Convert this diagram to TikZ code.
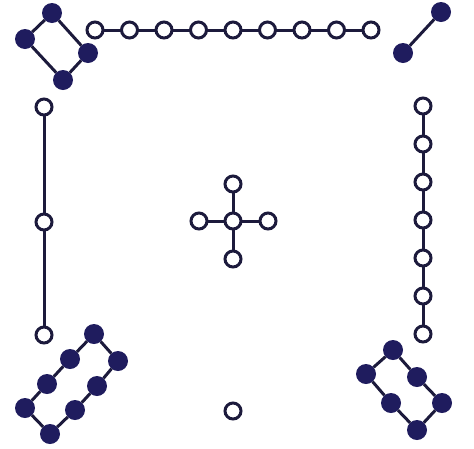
\documentclass[tikz,border=0pt]{standalone}
\usepackage{tikz}
\usetikzlibrary{positioning}
\definecolor{navy}{HTML}{1F1C5E}
\definecolor{rim}{HTML}{1C1A3C}
\tikzset{%
   dot/.style={circle, inner sep=0mm, outer sep=0mm, minimum size=20pt, draw=none, fill=navy},
   ring/.style={circle, inner sep=0mm, outer sep=0mm, minimum size=16pt, line width=3pt, draw=rim, fill=white},
   every edge/.style={draw=rim, line width=3pt},
}

\begin{document}
\begin{tikzpicture}[x=1pt, y=-1pt]
   \useasboundingbox (0,0) rectangle (474,448);
   % four (top left)
   \node[dot] (a0) at (52,13) {};
   \node[dot] (a1) at (25,39) {};
   \node[dot] (a2) at (63,80) {};
   \node[dot] (a3) at (88,53) {};
   \path (a0) edge (a1) (a1) edge (a2) (a2) edge (a3) (a3) edge (a0);
   % nine (top)
   \node[ring] (b0) at (95,30) {};
   \node[ring] (b1) at (129.5,30) {};
   \node[ring] (b2) at (164,30) {};
   \node[ring] (b3) at (198.5,30) {};
   \node[ring] (b4) at (233,30) {};
   \node[ring] (b5) at (267.5,30) {};
   \node[ring] (b6) at (302,30) {};
   \node[ring] (b7) at (336.5,30) {};
   \node[ring] (b8) at (371,30) {};
   \path (b0) edge (b1) (b1) edge (b2) (b2) edge (b3) (b3) edge (b4)
         (b4) edge (b5) (b5) edge (b6) (b6) edge (b7) (b7) edge (b8);
   % two (top right)
   \node[dot] (c0) at (441,12) {};
   \node[dot] (c1) at (403,53) {};
   \path (c0) edge (c1);
   % three (left)
   \node[ring] (d0) at (44,107) {};
   \node[ring] (d1) at (44,222) {};
   \node[ring] (d2) at (44,335) {};
   \path (d0) edge (d1) (d1) edge (d2);
   % five (centre)
   \node[ring] (e0) at (233,221) {};
   \node[ring] (e1) at (233,184) {};
   \node[ring] (e2) at (199,221) {};
   \node[ring] (e3) at (268,221) {};
   \node[ring] (e4) at (233,259) {};
   \path (e0) edge (e1) (e0) edge (e2) (e0) edge (e3) (e0) edge (e4);
   % seven (right)
   \node[ring] (f0) at (423,106) {};
   \node[ring] (f1) at (423,144) {};
   \node[ring] (f2) at (423,182) {};
   \node[ring] (f3) at (423,220) {};
   \node[ring] (f4) at (423,258) {};
   \node[ring] (f5) at (423,296) {};
   \node[ring] (f6) at (423,334) {};
   \path (f0) edge (f1) (f1) edge (f2) (f2) edge (f3)
         (f3) edge (f4) (f4) edge (f5) (f5) edge (f6);
   % eight (bottom left)
   \node[dot] (g0) at (94,334) {};
   \node[dot] (g1) at (70,359) {};
   \node[dot] (g2) at (47,384) {};
   \node[dot] (g3) at (25,408) {};
   \node[dot] (g4) at (50,434) {};
   \node[dot] (g5) at (75,410) {};
   \node[dot] (g6) at (97,386) {};
   \node[dot] (g7) at (118,361) {};
   \path (g0) edge (g1) (g1) edge (g2) (g2) edge (g3) (g3) edge (g4)
         (g4) edge (g5) (g5) edge (g6) (g6) edge (g7) (g7) edge (g0);
   % one (bottom)
   \node[ring] (h0) at (233,411) {};
   % six (bottom right)
   \node[dot] (i0) at (393,350) {};
   \node[dot] (i1) at (366,374) {};
   \node[dot] (i2) at (391,403) {};
   \node[dot] (i3) at (417,430) {};
   \node[dot] (i4) at (442,403) {};
   \node[dot] (i5) at (417,377) {};
   \path (i0) edge (i1) (i1) edge (i2) (i2) edge (i3)
         (i3) edge (i4) (i4) edge (i5) (i5) edge (i0);
\end{tikzpicture}
\end{document}
